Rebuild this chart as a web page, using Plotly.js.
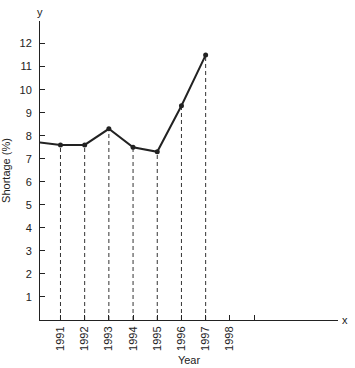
<!DOCTYPE html>
<html>
<head>
<meta charset="utf-8">
<script src="https://cdn.plot.ly/plotly-3.0.1.min.js"></script>
<style>html,body{margin:0;padding:0;background:#fff;}#chart{width:355px;height:368px;}</style>
</head>
<body>
<div id="chart"></div>
<script>
// Data
const lineYears = [1990, 1991, 1992, 1993, 1994, 1995, 1996, 1997];
const lineShortage = [7.72, 7.6, 7.6, 8.3, 7.5, 7.3, 9.3, 11.5];
const pointYears = [1991, 1992, 1993, 1994, 1995, 1996, 1997];
const pointShortage = [7.6, 7.6, 8.3, 7.5, 7.3, 9.3, 11.5];
const tickYears = [1991, 1992, 1993, 1994, 1995, 1996, 1997, 1998, 1999];
const tickLabels = ['1991', '1992', '1993', '1994', '1995', '1996', '1997', '1998', ''];
const yTicks = [1, 2, 3, 4, 5, 6, 7, 8, 9, 10, 11, 12];

const font = {family: 'Liberation Sans, Arial, Helvetica, sans-serif', size: 11, color: '#222'};

const traces = [];
pointYears.forEach((yr, i) => {
  traces.push({
    x: [yr, yr], y: [0, pointShortage[i]],
    mode: 'lines', type: 'scatter', showlegend: false, hoverinfo: 'skip',
    line: {color: '#333', width: 1, dash: '4px,3px'}
  });
});
traces.push({
  x: lineYears, y: lineShortage, mode: 'lines', type: 'scatter', showlegend: false,
  line: {color: '#222', width: 2}
});
traces.push({
  x: pointYears, y: pointShortage, mode: 'markers', type: 'scatter', showlegend: false,
  marker: {color: '#222', size: 5}
});

const layout = {
  width: 355, height: 368,
  margin: {l: 40, r: 17, t: 21, b: 48, pad: 0},
  paper_bgcolor: '#fff', plot_bgcolor: '#fff',
  font: font,
  xaxis: {
    range: [1990.154, 2002.47],
    tickvals: tickYears, ticktext: tickLabels, tickangle: -90,
    ticks: 'inside', ticklen: 5, tickcolor: '#222', tickwidth: 1,
    showline: true, linecolor: '#222', linewidth: 1,
    showgrid: false, zeroline: false,
    tickfont: font, ticklabelstandoff: 1,
    title: {text: 'Year', font: font, standoff: 6}
  },
  yaxis: {
    range: [0, 12.98],
    tickvals: yTicks,
    ticks: 'inside', ticklen: 5, tickcolor: '#222', tickwidth: 1,
    showline: true, linecolor: '#222', linewidth: 1,
    showgrid: false, zeroline: false,
    tickfont: font, ticklabelstandoff: 5,
    title: {text: 'Shortage (%)', font: font, standoff: 6}
  },
  annotations: [
    {xref: 'paper', yref: 'paper', x: 0, y: 1, text: 'y', showarrow: false,
     xanchor: 'center', yanchor: 'bottom', yshift: 1, font: font},
    {xref: 'paper', yref: 'paper', x: 1, y: 0, text: 'x', showarrow: false,
     xanchor: 'left', yanchor: 'middle', xshift: 2, font: font}
  ]
};

Plotly.newPlot('chart', traces, layout, {displayModeBar: false, staticPlot: true});
</script>
</body>
</html>
